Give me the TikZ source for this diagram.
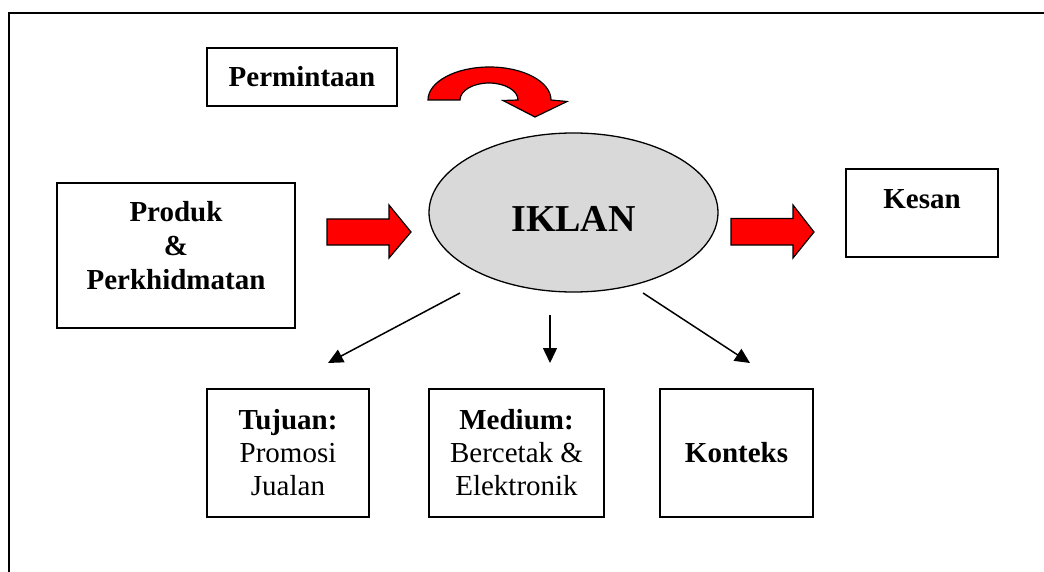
\documentclass[tikz,border=0pt]{standalone}
\usepackage{fontspec}
\setmainfont{Liberation Serif}
\usetikzlibrary{arrows.meta,shapes.geometric}
\definecolor{ovalgrey}{HTML}{D9D9D9}
\definecolor{blockred}{HTML}{FF0000}
\newcommand\diagfont{\fontsize{29}{33}\selectfont}
\newcommand\bigfont{\fontsize{38}{44}\selectfont}
\begin{document}
\begin{tikzpicture}[x=1pt,y=-1pt,
  box/.style={draw, line width=1.3pt, inner sep=0pt, align=center, font=\diagfont},
  txt/.style={inner sep=0pt, align=center, font=\diagfont},
  blockarrow/.style={draw, line width=1.2pt, fill=blockred, line join=miter},
  thinarrow/.style={line width=1.5pt, -{Triangle[length=15pt,width=14pt]}}]
\useasboundingbox (0,0) rectangle (1044,572);

% outer frame (open on the right and bottom)
\draw[line width=2pt] (9,572) -- (9,12.7) -- (1044,12.7);

% boxes
\node[box, minimum width=190pt, minimum height=58pt] (perm) at (302,77) {\textbf{Permintaan}};
\node[box, minimum width=238pt, minimum height=145pt] (produk) at (176,255.5) {};
\node[txt, font=\fontsize{29}{34}\selectfont] (produktext) at (176,245.1) {\textbf{Produk}\\\textbf{\&}\\\textbf{Perkhidmatan}};
\node[box, minimum width=152pt, minimum height=88pt] (kesan) at (922,213) {};
\node[txt, anchor=base] (kesantext) at (922,208) {\textbf{Kesan}};
\node[box, minimum width=162pt, minimum height=128pt] (tujuan) at (288,453) {\textbf{Tujuan:}\\Promosi\\Jualan};
\node[box, minimum width=175pt, minimum height=128pt] (medium) at (516.5,453) {\textbf{Medium:}\\Bercetak \&\\Elektronik};
\node[box, minimum width=153pt, minimum height=128pt] (konteks) at (736.5,453) {\textbf{Konteks}};

% central oval
\node[draw, ellipse, line width=1.3pt, fill=ovalgrey, minimum width=289pt, minimum height=159pt, inner sep=0pt] (iklan) at (573.5,212.5) {};
\node[inner sep=0pt, anchor=base, font=\bigfont] (iklantext) at (573.5,232) {\textbf{IKLAN}};

% red block arrows
\draw[blockarrow] (327,219) -- (389,219) -- (389,205) -- (411,232) -- (389,258) -- (389,245) -- (327,245) -- cycle;
\draw[blockarrow] (731,218.5) -- (793,218.5) -- (793,205) -- (814,232) -- (793,258) -- (793,245) -- (731,245) -- cycle;

% curved red arrow
\draw[blockarrow] (428,100)
  .. controls (428,81.8) and (455.5,67) .. (489.5,67)
  .. controls (523.5,67) and (551,81.8) .. (551,100)
  -- (567,101.5) -- (535,117) -- (503,100.5) -- (518,100)
  .. controls (518,90.6) and (505,83) .. (489,83)
  .. controls (473,83) and (460,90.6) .. (460,100)
  -- cycle;

% thin arrows from the oval to the lower boxes
\coordinate (s1) at (460,293);
\coordinate (e1) at (328,363);
\coordinate (s2) at (550,315);
\coordinate (e2) at (550,363);
\coordinate (s3) at (643,293);
\coordinate (e3) at (750,363);
\draw[thinarrow] (s1) -- (e1);
\draw[thinarrow] (s2) -- (e2);
\draw[thinarrow] (s3) -- (e3);
\end{tikzpicture}
\end{document}
